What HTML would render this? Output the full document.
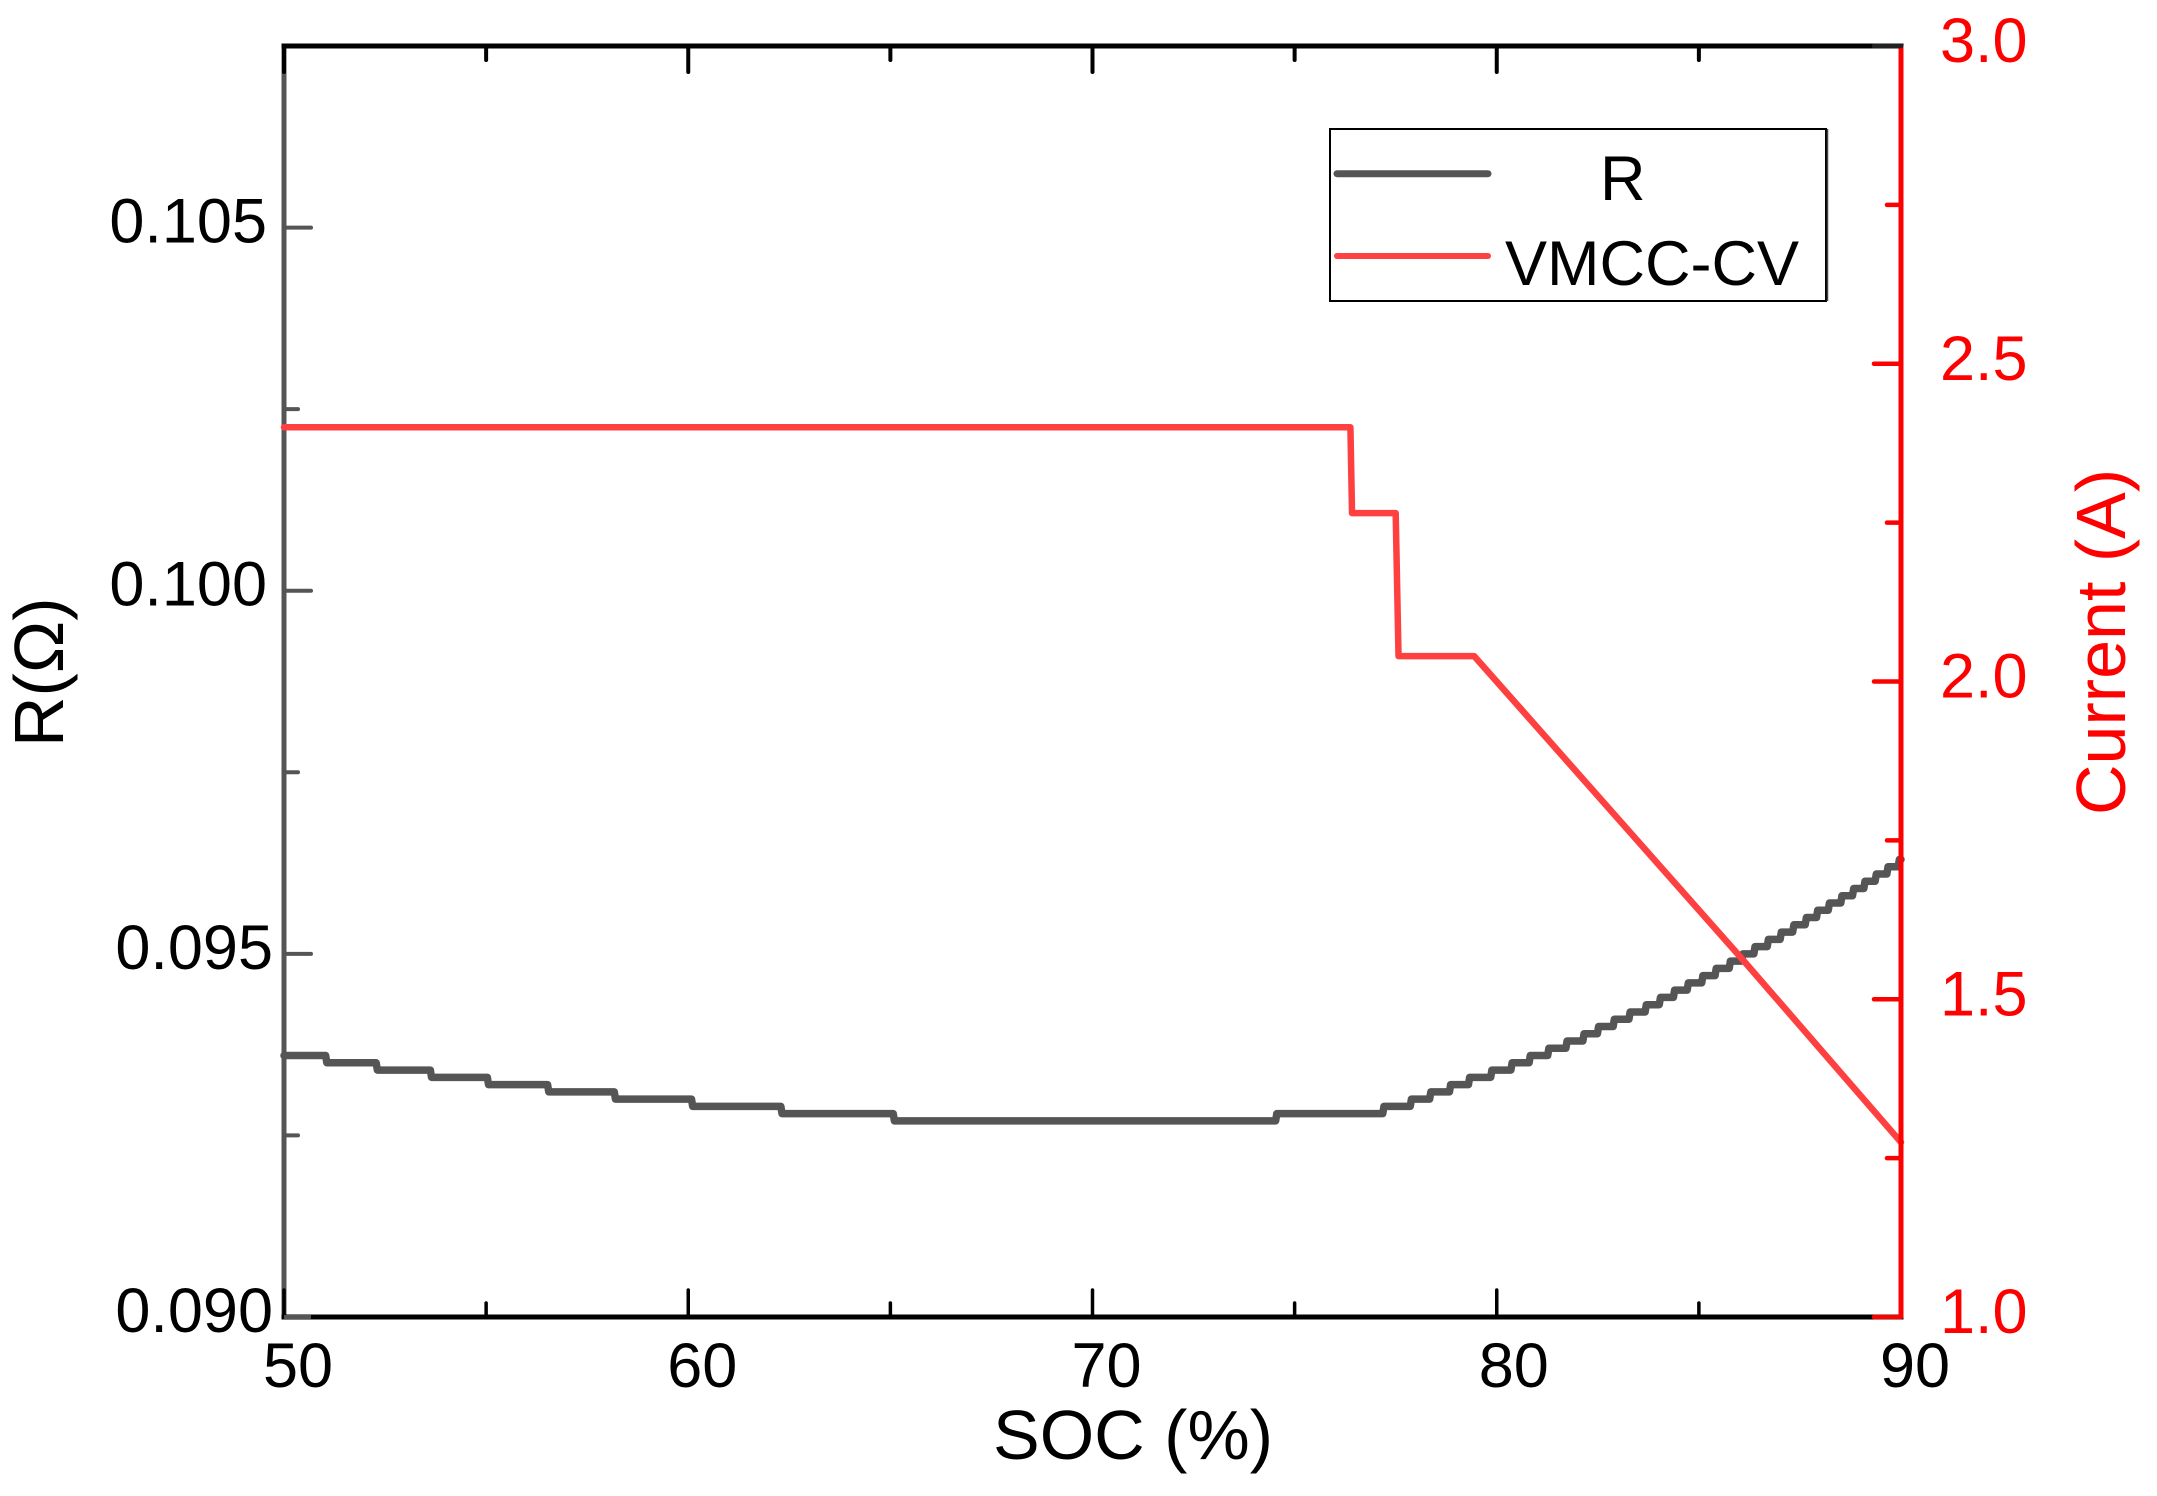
<!DOCTYPE html>
<html lang="en">
<head>
<meta charset="utf-8">
<title>R and VMCC-CV current versus SOC</title>
<style>
html,body{margin:0;padding:0;background:#fff;}
svg{display:block;font-family:"Liberation Sans",sans-serif;}
</style>
</head>
<body>
<svg id="chart" xmlns="http://www.w3.org/2000/svg" width="2157" height="1496" viewBox="0 0 2157 1496">
<rect x="0" y="0" width="2157" height="1496" fill="#ffffff"/>
</svg>
<script>
const xMajorTicks = [50, 60, 70, 80, 90];
const xMinorTicks = [55, 65, 75, 85];
const leftMajorTicks = [0.090, 0.095, 0.100, 0.105];
const leftMinorTicks = [0.0925, 0.0975, 0.1025];
const leftTickLabels = ['0.090', '0.095', '0.100', '0.105'];
const rightMajorTicks = [1.0, 1.5, 2.0, 2.5, 3.0];
const rightMinorTicks = [1.25, 1.75, 2.25, 2.75];
const rightTickLabels = ['1.0', '1.5', '2.0', '2.5', '3.0'];

const rStepSoc = [51.03, 52.28, 53.62, 55.03, 56.52, 58.17, 60.08, 62.29, 65.07,
  74.53, 77.18, 77.86, 78.34, 78.83, 79.30, 79.85, 80.35, 80.80, 81.26, 81.71, 82.13,
  82.49, 82.88, 83.27, 83.67, 84.02, 84.37, 84.71, 85.07, 85.40, 85.75, 86.06, 86.36,
  86.69, 87.01, 87.32, 87.63, 87.91, 88.20, 88.51, 88.80, 89.08, 89.36, 89.65, 89.93];
const rLevels = [0.0936, 0.0935, 0.0934, 0.0933, 0.0932, 0.0931, 0.0930, 0.0929, 0.0928, 0.0927,
  0.0928, 0.0929, 0.0930, 0.0931, 0.0932, 0.0933, 0.0934, 0.0935, 0.0936, 0.0937, 0.0938, 0.0939,
  0.0940, 0.0941, 0.0942, 0.0943, 0.0944, 0.0945, 0.0946, 0.0947, 0.0948, 0.0949, 0.0950, 0.0951,
  0.0952, 0.0953, 0.0954, 0.0955, 0.0956, 0.0957, 0.0958, 0.0959, 0.0960, 0.0961, 0.0962, 0.0963];

const currentSoc = [50, 76.38, 76.42, 77.50, 77.57, 79.44, 86.02, 90];
const currentAmps = [2.40, 2.40, 2.265, 2.265, 2.04, 2.04, 1.567, 1.275];

const svg = document.getElementById('chart');
const NS = 'http://www.w3.org/2000/svg';
const plot = { left: 284, right: 1901, top: 46, bottom: 1317 };
const xDomain = [50, 90];
const leftDomain = [0.090, 0.1075];
const rightDomain = [1, 3];

function xScale(v) {
  return plot.left + (v - xDomain[0]) / (xDomain[1] - xDomain[0]) * (plot.right - plot.left);
}
function yLeft(v) {
  return plot.bottom - (v - leftDomain[0]) / (leftDomain[1] - leftDomain[0]) * (plot.bottom - plot.top);
}
function yRight(v) {
  return plot.bottom - (v - rightDomain[0]) / (rightDomain[1] - rightDomain[0]) * (plot.bottom - plot.top);
}
function makeLine(x1, y1, x2, y2, color, width, cap) {
  const el = document.createElementNS(NS, 'line');
  el.setAttribute('x1', x1);
  el.setAttribute('y1', y1);
  el.setAttribute('x2', x2);
  el.setAttribute('y2', y2);
  el.setAttribute('stroke', color);
  el.setAttribute('stroke-width', width);
  el.setAttribute('stroke-linecap', cap || 'round');
  svg.appendChild(el);
  return el;
}
function makeText(str, x, y, size, color, anchor, rotate) {
  const el = document.createElementNS(NS, 'text');
  el.setAttribute('x', x);
  el.setAttribute('y', y);
  el.setAttribute('font-size', size);
  el.setAttribute('fill', color);
  el.setAttribute('text-anchor', anchor || 'start');
  if (rotate) {
    el.setAttribute('transform', 'rotate(' + rotate + ' ' + x + ' ' + y + ')');
  }
  el.textContent = str;
  svg.appendChild(el);
  return el;
}
function makePath(d, color, width) {
  const el = document.createElementNS(NS, 'path');
  el.setAttribute('d', d);
  el.setAttribute('fill', 'none');
  el.setAttribute('stroke', color);
  el.setAttribute('stroke-width', width);
  el.setAttribute('stroke-linejoin', 'round');
  el.setAttribute('stroke-linecap', 'round');
  svg.appendChild(el);
  return el;
}

const BLACK = '#000000';
const GREY = '#555555';
const RED = '#ff0000';
const SERIES_RED = '#ff4040';

/* left axis */
const leftAxis = makeLine(plot.left, plot.top, plot.left, plot.bottom, GREY, 5, 'butt');



/* bottom and top axes */
const bottomAxis = makeLine(plot.left, plot.bottom, plot.right, plot.bottom, BLACK, 5, 'square');


const topAxis = makeLine(plot.left, plot.top, plot.right, plot.top, BLACK, 5, 'square');



/* x ticks on the bottom and top edges */
xMajorTicks.forEach(function (v) {
  const bottomTick = makeLine(xScale(v), plot.bottom, xScale(v), plot.bottom - 27, BLACK, 3.5);
  
  
  const topTick = makeLine(xScale(v), plot.top, xScale(v), plot.top + 26, BLACK, 4);
  
  
});
xMinorTicks.forEach(function (v) {
  const bottomTick = makeLine(xScale(v), plot.bottom, xScale(v), plot.bottom - 14, BLACK, 3.5);
  
  
  const topTick = makeLine(xScale(v), plot.top, xScale(v), plot.top + 14, BLACK, 4);
  
  
});

/* left ticks */
leftMajorTicks.forEach(function (v) {
  const tick = makeLine(plot.left, yLeft(v), plot.left + 27, yLeft(v), GREY, 4, v === leftDomain[0] ? 'butt' : 'round');
  
  
});
leftMinorTicks.forEach(function (v) {
  const tick = makeLine(plot.left, yLeft(v), plot.left + 14, yLeft(v), GREY, 4);
  
  
});

/* R series: step line */
let rPath = 'M' + xScale(xDomain[0]) + ' ' + yLeft(rLevels[0]);
rStepSoc.forEach(function (s, i) {
  rPath += 'L' + xScale(s) + ' ' + yLeft(rLevels[i]);
  rPath += 'L' + (xScale(s) + 1.2) + ' ' + yLeft(rLevels[i + 1]);
});
rPath += 'L' + xScale(xDomain[1]) + ' ' + yLeft(rLevels[rLevels.length - 1]);
const rSeries = makePath(rPath, GREY, 7.5);



/* current series */
let currentPath = '';
currentSoc.forEach(function (s, i) {
  currentPath += (i === 0 ? 'M' : 'L') + xScale(s) + ' ' + yRight(currentAmps[i]);
});
const currentSeries = makePath(currentPath, SERIES_RED, 6.5);



/* right axis */
const rightAxis = makeLine(plot.right, plot.top, plot.right, plot.bottom, RED, 5, 'butt');


rightMajorTicks.forEach(function (v) {
  const tickColor = v === rightDomain[1] ? '#222222' : RED;
  const tick = makeLine(plot.right, yRight(v), plot.right - 27, yRight(v), tickColor, 4.5);
  
  
});
rightMinorTicks.forEach(function (v) {
  const tick = makeLine(plot.right, yRight(v), plot.right - 14, yRight(v), RED, 4.5);
  
  
});

/* tick labels */
xMajorTicks.forEach(function (v) {
  const nudge = v === 80 ? 17 : 14;
  const label = makeText(String(v), xScale(v) + nudge, 1387, 63, BLACK, 'middle');
  
  
});
leftMajorTicks.forEach(function (v, i) {
  const rightEdge = v < 0.0975 ? 273 : 267;
  const label = makeText(leftTickLabels[i], rightEdge, yLeft(v) + 15, 63, BLACK, 'end');
  
  
});
rightMajorTicks.forEach(function (v, i) {
  const label = makeText(rightTickLabels[i], 1940, yRight(v) + 16, 63, RED, 'start');
  
  
});

/* axis titles */
const xTitle = makeText('SOC (%)', 993, 1459, 70, BLACK, 'start');


const leftTitle = makeText('R(\u03A9)', 63, 747, 70, BLACK, 'start', -90);


const rightTitle = makeText('Current (A)', 2125, 815, 70, RED, 'start', -90);



/* legend */
const legendBox = document.createElementNS(NS, 'rect');
legendBox.setAttribute('x', 1330);
legendBox.setAttribute('y', 129);
legendBox.setAttribute('width', 496);
legendBox.setAttribute('height', 172);
legendBox.setAttribute('fill', '#ffffff');
legendBox.setAttribute('stroke', '#000000');
legendBox.setAttribute('stroke-width', 2);
svg.appendChild(legendBox);


const legendShadow = makeLine(1827.5, 129, 1827.5, 301, '#444444', 1.5, 'butt');


const legendSwatchR = makeLine(1337, 173.7, 1488, 173.7, GREY, 7);


const legendSwatchCurrent = makeLine(1337, 256, 1488, 256, SERIES_RED, 6);


const legendTextR = makeText('R', 1600, 200, 63, BLACK, 'start');


const legendTextCurrent = makeText('VMCC-CV', 1505, 285, 63, BLACK, 'start');


</script>
</body>
</html>
